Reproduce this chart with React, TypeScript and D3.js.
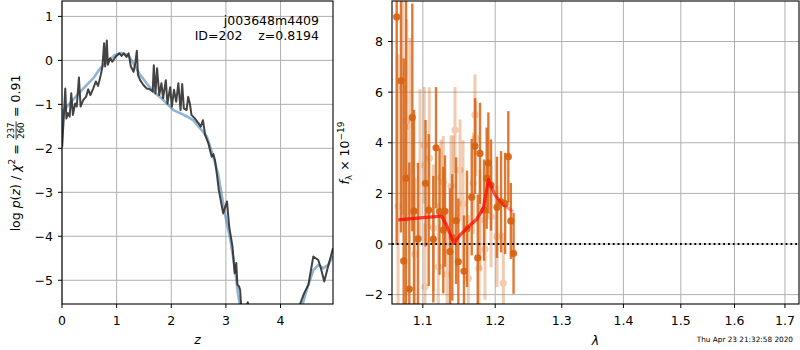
import React, { useLayoutEffect, useRef, useState } from "react";
import * as d3 from "d3";

const FONT = "DejaVu Sans, Verdana, sans-serif";

const zTicks = [0, 1, 2, 3, 4];
const logpTicks = [-5, -4, -3, -2, -1, 0, 1];
const lamTicks = [1.1, 1.2, 1.3, 1.4, 1.5, 1.6, 1.7];
const fluxTicks = [-2, 0, 2, 4, 6, 8];

// p(z) data: [z, log p]
const pzData: [number, number][] = [
  [0, -1.96], [0.03, -1.36], [0.06, -0.64], [0.08, -1.32], [0.11, -1.2], [0.14, -1.28],
  [0.17, -0.75], [0.2, -1.24], [0.24, -0.98], [0.27, -1.05], [0.31, -0.39], [0.34, -1.05],
  [0.39, -0.9], [0.44, -0.83], [0.48, -0.66], [0.52, -0.79], [0.57, -0.64], [0.62, -0.48],
  [0.66, -0.58], [0.71, -0.33], [0.74, -0.14], [0.77, 0.39], [0.79, -0.14], [0.82, 0.45],
  [0.84, -0.1], [0.88, 0.05], [0.92, -0.03], [0.98, 0.08], [1.05, 0.16], [1.09, 0.1],
  [1.13, 0.16], [1.18, 0.08], [1.22, 0.16], [1.26, -0.14], [1.31, -0.26], [1.34, -0.07],
  [1.37, 0.22], [1.39, -0.33], [1.43, -0.45], [1.49, -0.56], [1.55, -0.64], [1.61, -0.66],
  [1.66, -0.71], [1.68, -0.11], [1.71, -0.75], [1.74, -0.18], [1.78, -0.79], [1.82, -0.52],
  [1.85, -0.86], [1.9, -0.45], [1.93, -0.98], [1.98, -0.61], [2.01, -1.05], [2.05, -0.67],
  [2.09, -0.94], [2.13, -0.52], [2.17, -1.13], [2.2, -0.54], [2.23, -1.09], [2.28, -1.13],
  [2.31, -0.83], [2.34, -0.98], [2.37, -1.24], [2.43, -1.32], [2.5, -1.43], [2.54, -1.51],
  [2.58, -1.36], [2.62, -1.7], [2.68, -1.89], [2.74, -2.19], [2.77, -2.13], [2.8, -2.27],
  [2.84, -2.64], [2.87, -2.95], [2.95, -3.48], [3.02, -3.21], [3.06, -3.78], [3.12, -4.23],
  [3.16, -4.84], [3.19, -4.61], [3.21, -5.1], [3.24, -5.14], [3.26, -5.22], [3.28, -5.6],
  [3.34, -5.9], [3.4, -5.5], [3.45, -5.9], [3.6, -6.5], [4.2, -6.5], [4.34, -5.6],
  [4.43, -5.3], [4.51, -5.1], [4.6, -4.46], [4.69, -4.54], [4.73, -4.69], [4.8, -5.03],
  [4.87, -4.69], [4.96, -4.27],
];

const pzFit: [number, number][] = [
  [0, -1.98], [0.02, -1.13], [0.08, -1.07], [0.2, -0.9], [0.39, -0.64], [0.57, -0.41],
  [0.7, -0.18], [0.82, -0.03], [0.97, 0.12], [1.09, 0.17], [1.21, 0.12], [1.31, -0.07],
  [1.43, -0.33], [1.55, -0.52], [1.67, -0.71], [1.79, -0.83], [1.92, -0.98], [2.04, -1.13],
  [2.16, -1.2], [2.28, -1.27], [2.4, -1.36], [2.53, -1.55], [2.65, -1.73], [2.77, -2.19],
  [2.86, -2.6], [2.98, -3.48], [3.07, -4.0], [3.16, -4.69], [3.22, -5.3], [3.26, -5.6],
  [3.4, -6.5], [4.2, -6.5], [4.39, -5.6], [4.48, -5.22], [4.6, -4.77], [4.69, -4.65],
  [4.78, -4.73], [4.87, -4.65], [4.96, -4.46],
];

// spectrum: [lambda, flux, err]
const specDark: [number, number, number][] = [
  [1.066, 8.97, 9], [1.0715, 6.45, 6], [1.075, -0.67, 8], [1.078, 2.6, 7], [1.0823, -1.78, 5],
  [1.0862, 5.0, 4.5], [1.0884, 1.3, 4], [1.0937, 0.2, 3], [1.1036, 2.4, 2.5], [1.1078, 1.34, 3],
  [1.114, 0.19, 2.5], [1.1176, 3.8, 2.4], [1.1223, 1.28, 2.5], [1.1274, 0.55, 2.5], [1.1297, 1.3, 2.2],
  [1.1365, -0.3, 2.5], [1.1397, 0.26, 2.5], [1.1449, 0.92, 2.5], [1.148, -0.7, 2.5], [1.1558, -1.07, 2.2],
  [1.16, 0.6, 2.3], [1.1666, 1.85, 2.3], [1.1712, 3.87, 1.9], [1.1751, -0.55, 2.5], [1.1783, 3.58, 2],
  [1.184, 1.34, 2], [1.1878, 2.6, 2], [1.1902, 3.2, 2], [1.194, 2.33, 1.8], [1.2026, 1.45, 2],
  [1.2085, 1.67, 2], [1.2144, 1.6, 2], [1.2191, 3.45, 1.8], [1.2228, 0.91, 1.5], [1.2268, -0.37, 1.6],
];

const specLight: [number, number, number][] = [
  [1.0678, 1.5, 6], [1.0737, 6.15, 5], [1.0789, 4.87, 4], [1.0832, 4.64, 3.5], [1.0897, -0.4, 3],
  [1.0963, 3.12, 3], [1.102, 3.9, 2.3], [1.1029, -1.69, 2.5], [1.1086, 3.39, 2.8], [1.114, 0.64, 2.5],
  [1.1207, -0.9, 2.5], [1.1243, 2.62, 1.5], [1.1274, 2.46, 1.8], [1.1325, -1.2, 2.5], [1.1379, 2.29, 2],
  [1.1411, 2.29, 2], [1.1434, 4.5, 1.7], [1.1503, 2.92, 2], [1.1545, 1.6, 2.5], [1.1618, -1.36, 2.5],
  [1.1688, 2.4, 2], [1.1712, 5.1, 1.6], [1.1726, 4.18, 1.5], [1.1769, -0.96, 2.5], [1.1783, 0.95, 2],
  [1.1854, -0.2, 2], [1.194, 1.08, 2], [1.2026, 0.3, 2], [1.2118, -1.55, 2],
];

const modelLine: [number, number][] = [
  [1.068, 0.95], [1.0963, 1.03], [1.1253, 1.1], [1.1325, 0.7], [1.142, 0.03], [1.1503, 0.35],
  [1.1618, 0.68], [1.1736, 0.98], [1.183, 1.41], [1.1904, 2.55], [1.1997, 1.94], [1.2118, 1.54],
  [1.2266, 1.28],
];

const fmtMinus = (v: number, d = 0) => (v < 0 ? "\u2212" : "") + Math.abs(v).toFixed(d);

const L = { x0: 62, x1: 333, y0: 1, y1: 304 };
const R = { x0: 392, x1: 799, y0: 1, y1: 304 };
const FS = 12.5;
const TICK = 4;
const ORANGE = "rgb(216,98,16)";

function PzLabel() {
  const aRef = useRef<SVGTextElement>(null);
  const cRef = useRef<SVGTextElement>(null);
  const [w, setW] = useState({ a: 100, c: 44 });
  useLayoutEffect(() => {
    if (aRef.current && cRef.current) {
      const a = aRef.current.getComputedTextLength();
      const c = cRef.current.getComputedTextLength();
      if (Math.abs(a - w.a) > 0.5 || Math.abs(c - w.c) > 0.5) setW({ a, c });
    }
  });
  const ffs = 8.6;
  const fw = 3 * 0.636 * ffs + 2;
  const gap = 0.5;
  const total = w.a + gap + fw + gap + w.c;
  const x0 = -total / 2;
  const xf = x0 + w.a + gap;
  const xc = xf + fw + gap;
  return (
    <g transform="translate(20,153) rotate(-90)" fontFamily={FONT} fontSize={FS}>
      <text ref={aRef} x={x0} y={0} style={{ whiteSpace: "pre" }}>
        {"log "}<tspan fontStyle="italic">p</tspan>(<tspan fontStyle="italic">z</tspan>){" / "}<tspan fontStyle="italic">χ</tspan>
        <tspan fontSize={9} dy={-5}>2</tspan>
        <tspan dy={5}>{" = "}</tspan>
      </text>
      <text x={xf + fw / 2} y={-5.6} fontSize={ffs} textAnchor="middle">237</text>
      <line x1={xf} x2={xf + fw} y1={-3.9} y2={-3.9} stroke="black" strokeWidth={0.8} />
      <text x={xf + fw / 2} y={4.4} fontSize={ffs} textAnchor="middle">260</text>
      <text ref={cRef} x={xc} y={0} style={{ whiteSpace: "pre" }}>{" = 0.91"}</text>
    </g>
  );
}

export default function App() {
  const xL = d3.scaleLinear().domain([0, 4.96]).range([L.x0, L.x1]);
  const yL = d3.scaleLinear().domain([-5.54, 1.35]).range([L.y1, L.y0]);
  const xR = d3.scaleLog().domain([1.06, 1.729]).range([R.x0, R.x1]);
  const yR = d3.scaleLinear().domain([-2.37, 9.6]).range([R.y1, R.y0]);

  const lineL = d3.line<[number, number]>().x((d) => xL(d[0])).y((d) => yL(d[1]));
  const lineR = d3.line<[number, number]>().x((d) => xR(d[0])).y((d) => yR(d[1]));

  const grid = "#b0b0b0";

  return (
    <svg
      width={800}
      height={350}
      style={{ position: "absolute", left: 0, top: 0, background: "white" }}
      fontFamily={FONT}
    >
      <defs>
        <clipPath id="clipL">
          <rect x={L.x0} y={L.y0} width={L.x1 - L.x0} height={L.y1 - L.y0} />
        </clipPath>
        <clipPath id="clipR">
          <rect x={R.x0} y={R.y0} width={R.x1 - R.x0} height={R.y1 - R.y0} />
        </clipPath>
        <linearGradient id="modelGrad" gradientUnits="userSpaceOnUse" x1={xR(1.068)} x2={xR(1.2266)} y1={0} y2={0}>
          <stop offset="0%" stopColor="red" stopOpacity={0.75} />
          <stop offset="80%" stopColor="red" stopOpacity={0.7} />
          <stop offset="100%" stopColor="red" stopOpacity={0.3} />
        </linearGradient>
      </defs>

      {/* LEFT PANEL */}
      <g>
        {zTicks.map((t) => (
          <line key={"gzx" + t} x1={xL(t)} x2={xL(t)} y1={L.y0} y2={L.y1} stroke={grid} strokeWidth={1} />
        ))}
        {logpTicks.map((t) => (
          <line key={"gzy" + t} x1={L.x0} x2={L.x1} y1={yL(t)} y2={yL(t)} stroke={grid} strokeWidth={1} />
        ))}
        <g clipPath="url(#clipL)">
          <path d={lineL(pzFit) || ""} fill="none" stroke="steelblue" strokeOpacity={0.6} strokeWidth={2.6} strokeLinejoin="round" />
          <path d={lineL(pzData) || ""} fill="none" stroke="#333333" strokeOpacity={0.92} strokeWidth={2} strokeLinejoin="round" />
        </g>
        <rect x={L.x0} y={L.y0} width={L.x1 - L.x0} height={L.y1 - L.y0} fill="none" stroke="black" strokeWidth={1.1} />
        {zTicks.map((t) => (
          <g key={"tzx" + t}>
            <line x1={xL(t)} x2={xL(t)} y1={L.y1} y2={L.y1 + TICK} stroke="black" />
            <text x={xL(t)} y={324.5} fontSize={FS} textAnchor="middle">{fmtMinus(t)}</text>
          </g>
        ))}
        {logpTicks.map((t) => (
          <g key={"tzy" + t}>
            <line x1={L.x0 - TICK} x2={L.x0} y1={yL(t)} y2={yL(t)} stroke="black" />
            <text x={L.x0 - 9} y={yL(t) + 4.5} fontSize={FS} textAnchor="end">{fmtMinus(t)}</text>
          </g>
        ))}
        <text x={319} y={24.5} fontSize={FS} textAnchor="end">j003648m4409</text>
        <text x={319} y={40} fontSize={FS} textAnchor="end" style={{ whiteSpace: "pre" }}>ID=202    z=0.8194</text>
        <text x={(L.x0 + L.x1) / 2} y={344} fontSize={FS} textAnchor="middle" fontStyle="italic">z</text>
        <PzLabel />
      </g>

      {/* RIGHT PANEL */}
      <g>
        {lamTicks.map((t) => (
          <line key={"grx" + t} x1={xR(t)} x2={xR(t)} y1={R.y0} y2={R.y1} stroke={grid} strokeWidth={1} />
        ))}
        {fluxTicks.map((t) => (
          <line key={"gry" + t} x1={R.x0} x2={R.x1} y1={yR(t)} y2={yR(t)} stroke={grid} strokeWidth={1} />
        ))}
        <g clipPath="url(#clipR)">
          {specLight.map((d, i) => (
            <g key={"sl" + i} opacity={0.32}>
              <line x1={xR(d[0])} x2={xR(d[0])} y1={yR(d[1] - d[2])} y2={yR(d[1] + d[2])} stroke={ORANGE} strokeWidth={3} />
              <circle cx={xR(d[0])} cy={yR(d[1])} r={3.6} fill={ORANGE} />
            </g>
          ))}
          {specDark.map((d, i) => (
            <g key={"sd" + i}>
              <line x1={xR(d[0])} x2={xR(d[0])} y1={yR(d[1] - d[2])} y2={yR(d[1] + d[2])} stroke={ORANGE} strokeOpacity={0.85} strokeWidth={2.4} />
              <circle cx={xR(d[0])} cy={yR(d[1])} r={3.6} fill={ORANGE} fillOpacity={0.92} />
            </g>
          ))}
          <line x1={R.x0} x2={R.x1} y1={yR(0)} y2={yR(0)} stroke="black" strokeWidth={1.8} strokeDasharray="1.8,3" />
          <path d={lineR(modelLine) || ""} fill="none" stroke="url(#modelGrad)" strokeWidth={3.2} strokeLinejoin="round" />
        </g>
        <rect x={R.x0} y={R.y0} width={R.x1 - R.x0} height={R.y1 - R.y0} fill="none" stroke="black" strokeWidth={1.1} />
        {lamTicks.map((t) => (
          <g key={"trx" + t}>
            <line x1={xR(t)} x2={xR(t)} y1={R.y1} y2={R.y1 + TICK} stroke="black" />
            <text x={xR(t)} y={324.5} fontSize={FS} textAnchor="middle">{t.toFixed(1)}</text>
          </g>
        ))}
        {fluxTicks.map((t) => (
          <g key={"try" + t}>
            <line x1={R.x0 - TICK} x2={R.x0} y1={yR(t)} y2={yR(t)} stroke="black" />
            <text x={R.x0 - 9} y={yR(t) + 4.5} fontSize={FS} textAnchor="end">{fmtMinus(t)}</text>
          </g>
        ))}
        <text x={(R.x0 + R.x1) / 2} y={345} fontSize={FS} textAnchor="middle" fontStyle="italic">λ</text>
        <g transform="translate(349,153) rotate(-90)" fontSize={FS}>
          <text textAnchor="middle">
            <tspan fontStyle="italic">f</tspan>
            <tspan fontSize={9} dy={2.8}>λ</tspan>
            <tspan dy={-2.8}>{" \u00d7 10"}</tspan>
            <tspan fontSize={9} dy={-5}>{"\u221219"}</tspan>
          </text>
        </g>
        <text x={793} y={342} fontSize={7.3} textAnchor="end">Thu Apr 23 21:32:58 2020</text>
      </g>
    </svg>
  );
}
